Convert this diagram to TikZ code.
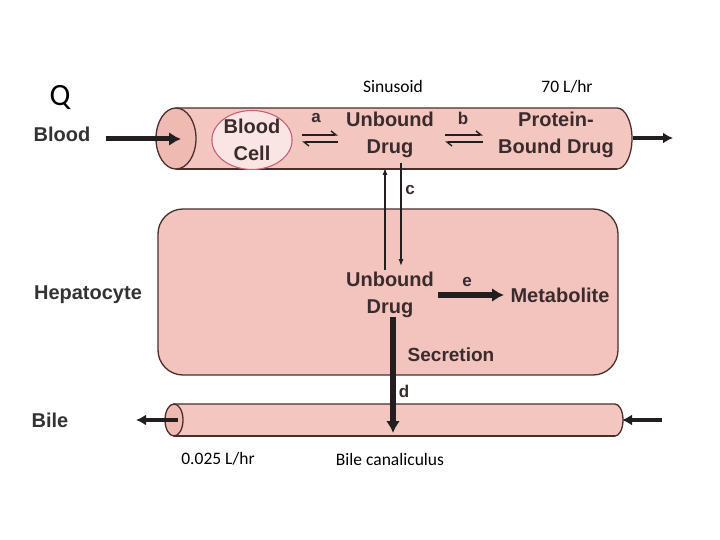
\documentclass[tikz,border=0pt]{standalone}
\usepackage{fontspec}
\setmainfont{Liberation Sans}
\newfontfamily\calfont{Carlito}
\usetikzlibrary{arrows.meta,shapes.geometric}
\definecolor{tubefill}{HTML}{F4C6C0}
\definecolor{endfill}{HTML}{EEBAB2}
\definecolor{hepfill}{HTML}{F3C3BD}
\definecolor{cellfill}{HTML}{FBE4E4}
\definecolor{cellline}{HTML}{C8607A}
\definecolor{outline}{HTML}{4A2E2C}
\definecolor{ink}{HTML}{3A2C2C}
\definecolor{arrowink}{HTML}{231F20}
\tikzset{
  lbl/.style={text=ink, font=\bfseries\fontsize{20}{27}\selectfont, align=center, inner sep=0pt},
  small/.style={text=ink, font=\bfseries\fontsize{17}{20}\selectfont, inner sep=0pt},
  cal/.style={text=black, font=\calfont\fontsize{17.5}{20}\selectfont, inner sep=0pt},
  wall/.style={draw=outline, line width=1.3pt},
  bigarrow/.style={draw=arrowink, line width=5pt, -{Latex[length=12pt,width=14pt]}},
  medarrow/.style={draw=arrowink, line width=3.5pt, -{Latex[length=10pt,width=11pt]}},
  thinarrow/.style={draw=arrowink, line width=1.1pt, -{Latex[length=7pt,width=5pt]}},
  harp/.style={draw=arrowink, line width=1.4pt, -{Straight Barb[harpoon,length=5pt,width=8pt]}},
}
\begin{document}
\begin{tikzpicture}[x=1pt,y=-1pt]
\useasboundingbox (0,0) rectangle (720,540);
% sinusoid tube
\path[wall, fill=tubefill] (176,108) -- (617,108)
  arc[start angle=-90, end angle=90, x radius=15, y radius=30.5] -- (176,169) -- cycle;
\draw[draw=outline, line width=2.6pt] (176,169) -- (617,169);
\path[wall, fill=endfill] (176,138.5) ellipse [x radius=20, y radius=30.5];
% hepatocyte
\path[wall, fill=hepfill, rounded corners=25pt] (158,209) rectangle (618,375);
% bile canaliculus
\path[wall, fill=tubefill] (174,404) -- (615,404)
  arc[start angle=-90, end angle=90, x radius=8, y radius=16] -- (174,436) -- cycle;
\draw[draw=outline, line width=2pt] (174,436) -- (615,436);
\path[wall, fill=endfill] (174,420) ellipse [x radius=9, y radius=16];

% texts
\node[cal, font=\calfont\fontsize{31}{31}\selectfont] (Q) at (60,97) {Q};
\node[cal] (sinus) at (393,86) {Sinusoid};
\node[cal] (flow) at (567,87) {70 L/hr};
\node[lbl, text=black!80] (blood) at (62,134) {Blood};
\node[lbl, text=black!80] (hepl) at (88,295) {Hepatocyte};
\node[lbl, text=black!80] (bilel) at (50,420) {Bile};
\node[lbl, ellipse, draw=cellline, line width=1.1pt, fill=cellfill,
      minimum width=80pt, minimum height=55pt] (cell) at (252,140) {Blood\\Cell};
\node[lbl] (ub1) at (390,134.5) {Unbound\\Drug};
\node[lbl] (pb) at (556,134.5) {Protein-\\Bound Drug};
\node[small] (la) at (316,118) {a};
\node[small] (lb) at (463,118) {b};
\node[small] (lc) at (410,190) {c};
\node[lbl] (ub2) at (390,294.5) {Unbound\\Drug};
\node[small] (le) at (467,282) {e};
\node[lbl] (met) at (560,295) {Metabolite};
\node[small, font=\bfseries\fontsize{19}{20}\selectfont] (secr) at (451,355) {Secretion};
\node[small] (ld) at (404,391) {d};
\node[cal] (bflow) at (218,459) {0.025 L/hr};
\node[cal] (canal) at (390,459) {Bile canaliculus};

% connector end points
\coordinate (bin0) at (106,139);
\coordinate (bin1) at (181,139);
\coordinate (out0) at (633,138);
\coordinate (out1) at (673,138);
\coordinate (a0) at (302,135);
\coordinate (a1) at (338,135);
\coordinate (a2) at (338,142);
\coordinate (a3) at (302,142);
\coordinate (b0) at (445,135);
\coordinate (b1) at (483,135);
\coordinate (b2) at (483,142);
\coordinate (b3) at (445,142);
\coordinate (cu0) at (385,270);
\coordinate (cu1) at (385,168);
\coordinate (cd0) at (401,163);
\coordinate (cd1) at (401,266);
\coordinate (e0) at (438,295);
\coordinate (e1) at (504,295);
\coordinate (s0) at (393,317);
\coordinate (s1) at (393,433);
\coordinate (bl0) at (178,420);
\coordinate (bl1) at (136,420);
\coordinate (br0) at (662,420);
\coordinate (br1) at (622,420);

% connectors
\draw[bigarrow] (bin0) -- (bin1);
\draw[medarrow] (out0) -- (out1);
\draw[harp] (a0) -- (a1);
\draw[harp] (a2) -- (a3);
\draw[harp] (b0) -- (b1);
\draw[harp] (b2) -- (b3);
\draw[thinarrow] (cu0) -- (cu1);
\draw[thinarrow] (cd0) -- (cd1);
\draw[bigarrow, line width=5.5pt] (e0) -- (e1);
\draw[bigarrow, line width=6pt] (s0) -- (s1);
\draw[medarrow] (bl0) -- (bl1);
\draw[medarrow] (br0) -- (br1);
\end{tikzpicture}
\end{document}
